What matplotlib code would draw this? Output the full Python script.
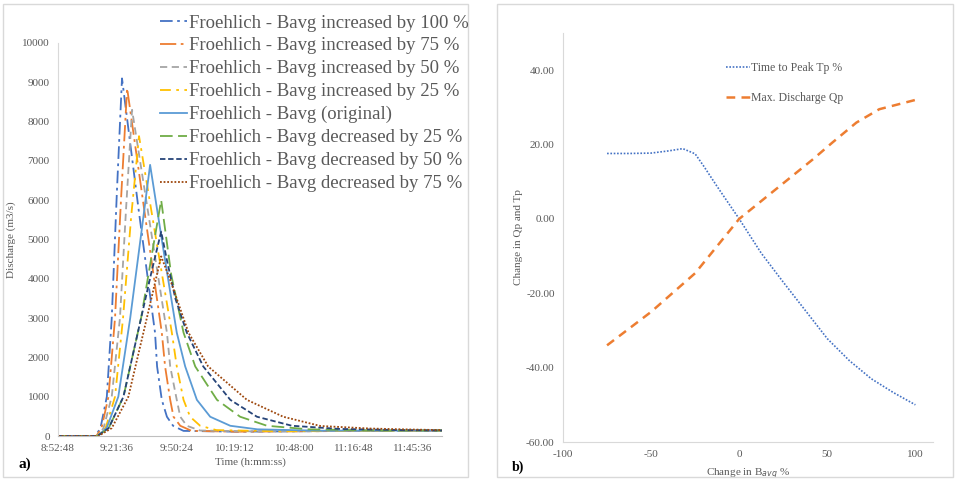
import matplotlib.pyplot as plt, numpy as np
from matplotlib.patches import Rectangle
from matplotlib.ticker import FuncFormatter, FixedLocator

plt.rcParams['font.family'] = ['Liberation Serif', 'DejaVu Serif']
plt.rcParams['axes.unicode_minus'] = False

# ---- panel a) data: time in minutes after midnight, discharge in m3/s
inc100_t = [532.8, 551, 553.5, 556.6, 559, 561.5, 564, 572, 580.1, 581.1, 583.4, 585.9, 588.9, 594, 620, 680, 720]
inc100_q = [0, 0, 200, 1000, 3000, 6200, 9100, 5800, 2630, 1770, 920, 490, 260, 130, 110, 130, 140]
inc75_t = [532.8, 551.5, 554, 557.4, 560.6, 563.5, 566.5, 575, 583.4, 585.0, 587.5, 589.1, 592.4, 598, 620, 680, 720]
inc75_q = [0, 0, 200, 1000, 3000, 6000, 8850, 5700, 2630, 1770, 920, 490, 260, 130, 110, 130, 140]
inc50_t = [532.8, 552, 555, 559, 563, 566, 568.9, 577, 585.9, 587.5, 590.7, 592.4, 595.6, 602, 630, 680, 720]
inc50_q = [0, 0, 200, 1000, 3000, 5800, 8300, 5600, 2630, 1770, 920, 490, 260, 140, 115, 130, 140]
inc25_t = [532.8, 552, 556, 560.6, 564.5, 568.5, 572.3, 580, 588.3, 590.7, 594.0, 597.2, 602.1, 610, 640, 690, 720]
inc25_q = [0, 0, 200, 1000, 3000, 5600, 7630, 5200, 2630, 1770, 920, 490, 260, 150, 120, 130, 140]
orig_t = [532.8, 552, 556.5, 562.2, 568, 573, 577.7, 584, 590.7, 594.8, 600.5, 607.0, 616.8, 630, 660, 720]
orig_q = [0, 0, 200, 1000, 3000, 5000, 6900, 4800, 2630, 1770, 920, 490, 260, 170, 135, 140]
dec25_t = [532.8, 552, 557.5, 564.7, 573.3, 578.5, 583.1, 588, 594.0, 599.7, 610.3, 621.6, 634.7, 655, 690, 720]
dec25_q = [0, 0, 200, 1000, 3000, 4600, 6000, 4100, 2630, 1770, 920, 490, 260, 170, 140, 140]
dec50_t = [532.8, 552, 557.5, 564.7, 573.3, 578.5, 583.1, 586, 590, 595.6, 603.6, 616.8, 629.8, 646.9, 670, 700, 720]
dec50_q = [0, 0, 200, 1000, 3000, 4200, 5200, 4450, 3500, 2630, 1770, 920, 490, 260, 180, 150, 140]
dec75_t = [532.8, 552.5, 559, 567.1, 576.1, 583.1, 588, 596.4, 606.0, 624.9, 642.6, 660.7, 685, 705, 720]
dec75_q = [0, 0, 200, 1000, 3000, 4570, 3900, 2630, 1770, 920, 490, 255, 190, 165, 150]

series_labels = ["Froehlich - Bavg increased by 100 %", "Froehlich - Bavg increased by 75 %",
                 "Froehlich - Bavg increased by 50 %", "Froehlich - Bavg increased by 25 %",
                 "Froehlich - Bavg (original)", "Froehlich - Bavg decreased by 25 %",
                 "Froehlich - Bavg decreased by 50 %", "Froehlich - Bavg decreased by 75 %"]

# ---- panel b) data
chg_b = [-75, -62.5, -50, -40, -32, -25, -20, -12.5, 0, 12.5, 25, 37.5, 50, 62.5, 75, 87.5, 100]
tp_chg = [17.6, 17.6, 17.7, 18.3, 18.9, 17.5, 14.1, 8.7, 0, -9.2, -17.0, -24.6, -32.2, -38.1, -43.0, -46.7, -50.0]
qp_x = [-75, -50, -25, 0, 22.7, 41.5, 52.8, 66.5, 79.5, 100]
qp_chg = [-34, -25, -14.6, 0, 8.7, 15.9, 20.5, 25.9, 29.5, 32]

styles = [("#4472C4", (0, (7, 2.5, 1.5, 2.5))), ("#ED7D31", (0, (9, 2.5, 1.5, 2.5))),
          ("#A5A5A5", (0, (4, 2.5))), ("#FFC000", (0, (6, 3, 1.5, 3))),
          ("#5B9BD5", "-"), ("#70AD47", (0, (7, 3))),
          ("#264478", (0, (3, 1.5))), ("#9E480E", (0, (1, 1)))]

grey = "#595959"
fig = plt.figure(figsize=(9.55, 4.8), dpi=100)

# chart area borders
for x0, w in [(3, 465), (497, 456)]:
    fig.patches.append(Rectangle((x0 / 955, 3 / 480), w / 955, 473 / 480, transform=fig.transFigure,
                                 fill=False, edgecolor="#d9d9d9", linewidth=1))

# ---------------- panel a
ax = fig.add_axes([58 / 955, 44 / 480, 384 / 955, 393 / 480])
all_t = [inc100_t, inc75_t, inc50_t, inc25_t, orig_t, dec25_t, dec50_t, dec75_t]
all_q = [inc100_q, inc75_q, inc50_q, inc25_q, orig_q, dec25_q, dec50_q, dec75_q]
for t, q, (c, ls), lab in zip(all_t, all_q, styles, series_labels):
    ax.plot(np.array(t) / 1440, q, color=c, linestyle=ls, linewidth=1.3, label=lab)

ax.set_xlim(0.37, 0.5)
ax.set_ylim(0, 10000)
ax.xaxis.set_major_locator(FixedLocator([0.37 + 0.02 * k for k in range(7)]))
ax.yaxis.set_major_locator(FixedLocator(list(range(0, 10001, 1000))))

def hms(v, pos):
    s = int(round(v * 86400))
    return "%d:%02d:%02d" % (s // 3600, (s % 3600) // 60, s % 60)

ax.xaxis.set_major_formatter(FuncFormatter(hms))
for sp in ["top", "right"]:
    ax.spines[sp].set_visible(False)
ax.spines["left"].set_color("#d9d9d9")
ax.spines["bottom"].set_color("#bfbfbf")
ax.tick_params(length=0, labelsize=8, colors=grey, pad=6)
ax.set_ylabel("Discharge (m3/s)", fontsize=8, color=grey, labelpad=4)
ax.set_xlabel("Time (h:mm:ss)", fontsize=8, color=grey, labelpad=3)
fig.text(18 / 955, 1 - 464 / 480, "a)", fontsize=11, fontweight="bold", va="center")

leg = fig.legend(*ax.get_legend_handles_labels(), loc="upper left",
                 bbox_to_anchor=(151 / 955, 1 - 5 / 480), frameon=False, fontsize=13.5,
                 handlelength=1.4, handletextpad=0.12, labelspacing=0.31, borderpad=0)
for txt in leg.get_texts():
    txt.set_color(grey)

# ---------------- panel b
bx = fig.add_axes([563 / 955, 38 / 480, 370 / 955, 409 / 480])
bx.plot(chg_b, tp_chg, color="#4472C4", linestyle=(0, (1, 1)), linewidth=1.2, label="Time to Peak Tp %")
bx.plot(qp_x, qp_chg, color="#ED7D31", linestyle=(0, (3.5, 2.5)), linewidth=1.8, label="Max. Discharge Qp")
bx.set_xlim(-100, 110)
bx.set_ylim(-60, 50)
bx.xaxis.set_major_locator(FixedLocator([-100, -50, 0, 50, 100]))
bx.yaxis.set_major_locator(FixedLocator([-60, -40, -20, 0, 20, 40]))
bx.yaxis.set_major_formatter(FuncFormatter(lambda v, p: "%.2f" % v))
for sp in ["top", "right"]:
    bx.spines[sp].set_visible(False)
bx.spines["left"].set_color("#d9d9d9")
bx.spines["bottom"].set_color("#d9d9d9")
bx.tick_params(length=0, labelsize=8, colors=grey, pad=6)
bx.set_ylabel("Change in Qp and Tp", fontsize=8, color=grey, labelpad=2)
bx.set_xlabel("Change in B$_{avg}$ %", fontsize=8, color=grey, labelpad=5)
fig.text(512 / 955, 1 - 467 / 480, "b)", fontsize=10, fontweight="bold", va="center")
lg2 = bx.legend(loc="upper left", bbox_to_anchor=(720 / 955, 1 - 56 / 480),
                bbox_transform=fig.transFigure, frameon=False, fontsize=8.5,
                handlelength=2.0, handletextpad=0.1, labelspacing=1.55, borderpad=0)
for txt in lg2.get_texts():
    txt.set_color(grey)

fig.savefig("out.png", dpi=100)
